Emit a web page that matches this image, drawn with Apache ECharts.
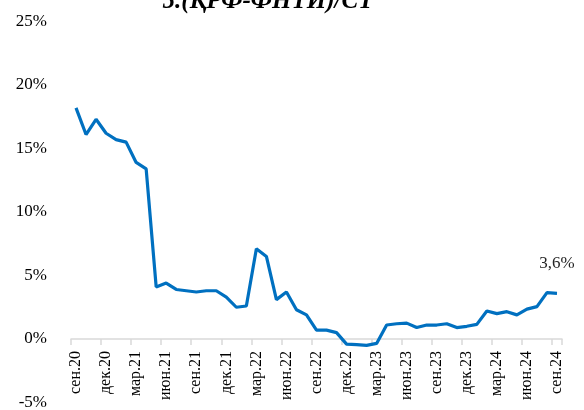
<!DOCTYPE html>
<html>
<head>
<meta charset="utf-8">
<script src="https://cdn.jsdelivr.net/npm/echarts@6/dist/echarts.min.js"></script>
<style>
  html, body { margin: 0; padding: 0; background: #fff; }
  #chart { width: 584px; height: 410px; }
</style>
</head>
<body>
<div id="chart"></div>
<script>
// сен.20 ... сен.24
const categories = [
  'сен.20', 'окт.20', 'ноя.20', 'дек.20',
  'янв.21', 'фев.21', 'мар.21', 'апр.21', 'май.21', 'июн.21', 'июл.21', 'авг.21', 'сен.21', 'окт.21', 'ноя.21', 'дек.21',
  'янв.22', 'фев.22', 'мар.22', 'апр.22', 'май.22', 'июн.22', 'июл.22', 'авг.22', 'сен.22', 'окт.22', 'ноя.22', 'дек.22',
  'янв.23', 'фев.23', 'мар.23', 'апр.23', 'май.23', 'июн.23', 'июл.23', 'авг.23', 'сен.23', 'окт.23', 'ноя.23', 'дек.23',
  'янв.24', 'фев.24', 'мар.24', 'апр.24', 'май.24', 'июн.24', 'июл.24', 'авг.24', 'сен.24'
]

const values = [
  18.2, 16.1, 17.3, 16.2,
  15.7, 15.5, 13.9, 13.4, 4.1, 4.4, 3.9, 3.8, 3.7, 3.8, 3.8, 3.3,
  2.5, 2.6, 7.1, 6.5, 3.1, 3.7, 2.3, 1.9, 0.7, 0.7, 0.5, -0.4,
  -0.45, -0.5, -0.35, 1.1, 1.2, 1.25, 0.9, 1.1, 1.1, 1.2, 0.9, 1.0,
  1.15, 2.2, 2.0, 2.15, 1.9, 2.35, 2.55, 3.65, 3.6
]

const yMin = -5
const yMax = 25

const lastLabel = '3,6%'
const titleText = '5.(ҚРФ-ФНТИ)/СТ'

const serif = '"Liberation Serif", "DejaVu Serif", serif'

const gridTop = 21.5
const gridBottom = 7.5
// x axis sits on the 0% line, labels hang below it
const plotH = 410 - gridTop - gridBottom
const zeroOffset = -plotH * (0 - yMin) / (yMax - yMin)

const chart = echarts.init(document.getElementById('chart'))

// only the last point carries a label
const seriesData = values.map((v, i) => {
  if (i === values.length - 1) {
    return {
      value: v,
      label: {
        show: true,
        position: 'top',
        distance: 21,
        offset: [-9, 0],
        formatter: lastLabel,
        fontFamily: serif,
        fontSize: 17,
        color: '#262626'
      }
    }
  }
  return v
})

chart.setOption({
  animation: false,
  backgroundColor: '#fff',
  title: {
    text: titleText,
    left: 263,
    textAlign: 'center',
    top: -16,
    textStyle: {
      fontFamily: serif,
      fontSize: 25,
      fontWeight: 'bold',
      fontStyle: 'italic',
      color: '#000'
    }
  },
  grid: {
    left: 71,
    right: 22,
    top: gridTop,
    bottom: gridBottom,
    containLabel: false,
    outerBoundsMode: 'none'
  },
  xAxis: {
    type: 'category',
    boundaryGap: true,
    data: categories,
    offset: zeroOffset,
    axisLine: {
      onZero: false,
      lineStyle: { color: '#d9d9d9', width: 1.5 }
    },
    axisTick: {
      show: true,
      interval: 2,
      length: 6,
      lineStyle: { color: '#d9d9d9', width: 1.5 }
    },
    axisLabel: {
      interval: 2,
      rotate: 90,
      margin: 12,
      fontFamily: serif,
      fontSize: 16,
      color: '#000'
    },
    splitLine: { show: false }
  },
  yAxis: {
    type: 'value',
    min: yMin,
    max: yMax,
    interval: 5,
    axisLine: { show: false },
    axisTick: { show: false },
    splitLine: { show: false },
    axisLabel: {
      margin: 24,
      fontFamily: serif,
      fontSize: 17,
      color: '#000',
      formatter: '{value}%'
    }
  },
  series: [
    {
      type: 'line',
      data: seriesData,
      symbol: 'circle',
      showSymbol: true,
      showAllSymbol: true,
      symbolSize: 0,
      smooth: false,
      z: 3,
      lineStyle: { color: '#0070c0', width: 3.2 },
      itemStyle: { color: '#0070c0' },
      labelLayout: { hideOverlap: false }
    }
  ]
})
</script>
</body>
</html>
